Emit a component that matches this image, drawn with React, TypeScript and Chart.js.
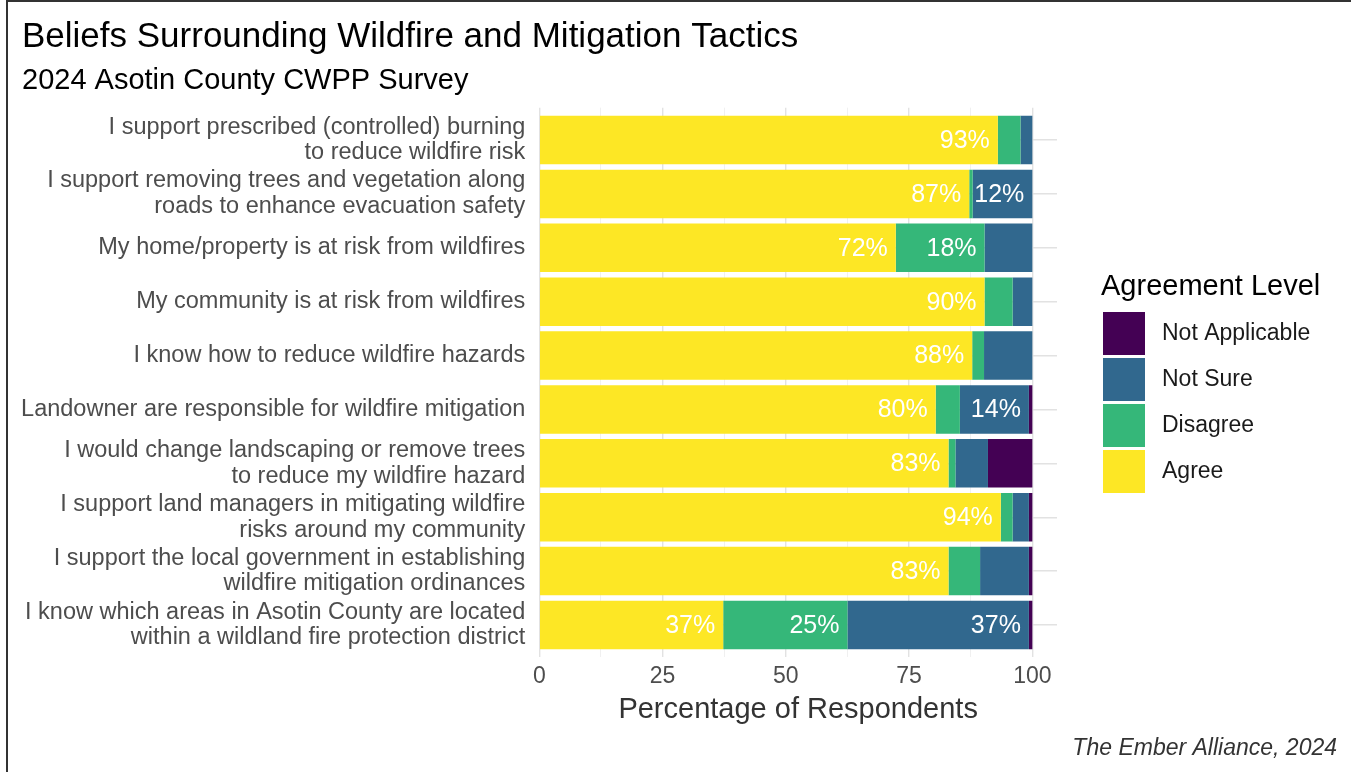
import React, { useEffect, useRef } from 'react';
import { Chart, registerables } from 'chart.js';

Chart.register(...registerables);

const categories: string[][] = [
  ['I support prescribed (controlled) burning', 'to reduce wildfire risk'],
  ['I support removing trees and vegetation along', 'roads to enhance evacuation safety'],
  ['My home/property is at risk from wildfires'],
  ['My community is at risk from wildfires'],
  ['I know how to reduce wildfire hazards'],
  ['Landowner are responsible for wildfire mitigation'],
  ['I would change landscaping or remove trees', 'to reduce my wildfire hazard'],
  ['I support land managers in mitigating wildfire', 'risks around my community'],
  ['I support the local government in establishing', 'wildfire mitigation ordinances'],
  ['I know which areas in Asotin County are located', 'within a wildland fire protection district'],
];

const agree = [93.0, 87.2, 72.3, 90.3, 87.8, 80.4, 83.0, 93.6, 83.0, 37.3];
const disagree = [4.6, 0.7, 18.0, 5.7, 2.4, 4.9, 1.4, 2.4, 6.4, 25.2];
const notSure = [2.4, 12.1, 9.7, 4.0, 9.8, 14.0, 6.6, 3.3, 9.9, 36.8];
const notApplicable = [0, 0, 0, 0, 0, 0.7, 9.0, 0.7, 0.7, 0.7];

const seriesNames = ['Agree', 'Disagree', 'Not Sure', 'Not Applicable'];
const seriesColors = ['#FDE725', '#35B779', '#31688E', '#440154'];
const seriesValues = [agree, disagree, notSure, notApplicable];

const xTicks = [0, 12.5, 25, 37.5, 50, 62.5, 75, 87.5, 100];
const xTickLabels = ['0', '25', '50', '75', '100'];

const TITLE = 'Beliefs Surrounding Wildfire and Mitigation Tactics';
const SUBTITLE = '2024 Asotin County CWPP Survey';
const X_TITLE = 'Percentage of Respondents';
const LEGEND_TITLE = 'Agreement Level';
const CAPTION = 'The Ember Alliance, 2024';
const LABEL_MIN = 11;

const FONT = '"Liberation Sans", Arial, sans-serif';

const decorPlugin = {
  id: 'decor',
  beforeDraw(chart: any) {
    const ctx = chart.ctx;
    ctx.save();
    ctx.fillStyle = '#ffffff';
    ctx.fillRect(0, 0, chart.width, chart.height);
    ctx.restore();
  },
  afterDatasetsDraw(chart: any) {
    const ctx = chart.ctx;
    ctx.save();
    ctx.font = `25px ${FONT}`;
    ctx.fillStyle = '#ffffff';
    ctx.textAlign = 'right';
    ctx.textBaseline = 'middle';
    chart.data.datasets.forEach((ds: any, di: number) => {
      const meta = chart.getDatasetMeta(di);
      meta.data.forEach((el: any, i: number) => {
        const v = seriesValues[di][i];
        if (v >= LABEL_MIN) {
          ctx.fillText(`${Math.round(v)}%`, el.x - 8, el.y + 1);
        }
      });
    });
    ctx.restore();
  },
  afterDraw(chart: any) {
    const ctx = chart.ctx;
    const area = chart.chartArea;
    ctx.save();
    // frame
    ctx.strokeStyle = '#333333';
    ctx.lineWidth = 2;
    ctx.beginPath();
    ctx.moveTo(7, chart.height);
    ctx.lineTo(7, 1);
    ctx.lineTo(chart.width, 1);
    ctx.stroke();

    ctx.textBaseline = 'alphabetic';
    ctx.textAlign = 'left';
    ctx.fillStyle = '#000000';
    ctx.font = `35px ${FONT}`;
    ctx.fillText(TITLE, 22, 47);
    ctx.font = `29px ${FONT}`;
    ctx.fillText(SUBTITLE, 22, 89);

    // x axis title
    ctx.fillStyle = '#333333';
    ctx.textAlign = 'center';
    ctx.font = `29px ${FONT}`;
    ctx.fillText(X_TITLE, (area.left + area.right) / 2, 718);

    // legend
    ctx.textAlign = 'left';
    ctx.fillStyle = '#000000';
    ctx.font = `29px ${FONT}`;
    ctx.fillText(LEGEND_TITLE, 1101, 295);
    ctx.font = `23px ${FONT}`;
    ctx.textBaseline = 'middle';
    const order = [3, 2, 1, 0];
    order.forEach((si, k) => {
      const top = 312 + k * 46;
      ctx.fillStyle = seriesColors[si];
      ctx.fillRect(1103, top, 42, 43);
      ctx.fillStyle = '#1a1a1a';
      ctx.fillText(seriesNames[si], 1162, top + 22);
    });

    // caption
    ctx.textBaseline = 'alphabetic';
    ctx.textAlign = 'right';
    ctx.fillStyle = '#333333';
    ctx.font = `italic 23px ${FONT}`;
    ctx.fillText(CAPTION, 1337, 755);
    ctx.restore();
  },
};

export default function App() {
  const ref = useRef<HTMLCanvasElement | null>(null);

  useEffect(() => {
    if (!ref.current) return;
    Chart.defaults.font.family = FONT;
    const chart = new Chart(ref.current, {
      type: 'bar',
      data: {
        datasets: seriesNames.map((name, si) => ({
          label: name,
          data: seriesValues[si].map((v, i) => ({ x: v, y: i })),
          backgroundColor: seriesColors[si],
          borderWidth: 0,
          stack: 's',
          barPercentage: 0.9,
          categoryPercentage: 1.0,
        })),
      },
      options: {
        indexAxis: 'y',
        responsive: false,
        animation: false,
        events: [],
        layout: { padding: { top: 107.7, right: 294, bottom: 0, left: 0 } },
        plugins: {
          legend: { display: false },
          title: { display: false },
          tooltip: { enabled: false },
        },
        scales: {
          x: {
            type: 'linear',
            stacked: true,
            min: 0,
            max: 105,
            offset: false,
            afterBuildTicks: (s: any) => {
              s.ticks = xTicks.map((v) => ({ value: v }));
            },
            afterFit: (s: any) => {
              s.height = 114.7;
            },
            ticks: {
              autoSkip: false,
              maxRotation: 0,
              padding: 6,
              color: '#4d4d4d',
              font: { size: 23 },
              callback: (v: any) => (v % 25 === 0 ? xTickLabels[v / 25] : ''),
            },
            grid: {
              drawTicks: false,
              offset: false,
              color: (c: any) => (c.tick && c.tick.value % 25 === 0 ? '#e2e2e2' : '#eeeeee'),
              lineWidth: (c: any) => (c.tick && c.tick.value % 25 === 0 ? 1.4 : 0.9),
            },
            border: { display: false },
          },
          y: {
            type: 'linear',
            reverse: true,
            min: -0.6,
            max: 9.6,
            offset: false,
            afterBuildTicks: (s: any) => {
              s.ticks = categories.map((_, i) => ({ value: i }));
            },
            afterFit: (s: any) => {
              s.width = 539.3;
            },
            ticks: {
              autoSkip: false,
              padding: 14,
              color: '#4d4d4d',
              font: { size: 23.5, lineHeight: 1.1 },
              callback: (v: any) => categories[v] ?? '',
            },
            grid: {
              drawTicks: false,
              offset: false,
              color: '#e2e2e2',
              lineWidth: 1.4,
            },
            border: { display: false },
          },
        },
      },
      plugins: [decorPlugin],
    } as any);
    return () => chart.destroy();
  }, []);

  return (
    <div style={{ position: 'fixed', left: 0, top: 0, width: 1351, height: 772, background: '#fff' }}>
      <canvas ref={ref} width={1351} height={772} style={{ display: 'block', width: 1351, height: 772 }} />
    </div>
  );
}
